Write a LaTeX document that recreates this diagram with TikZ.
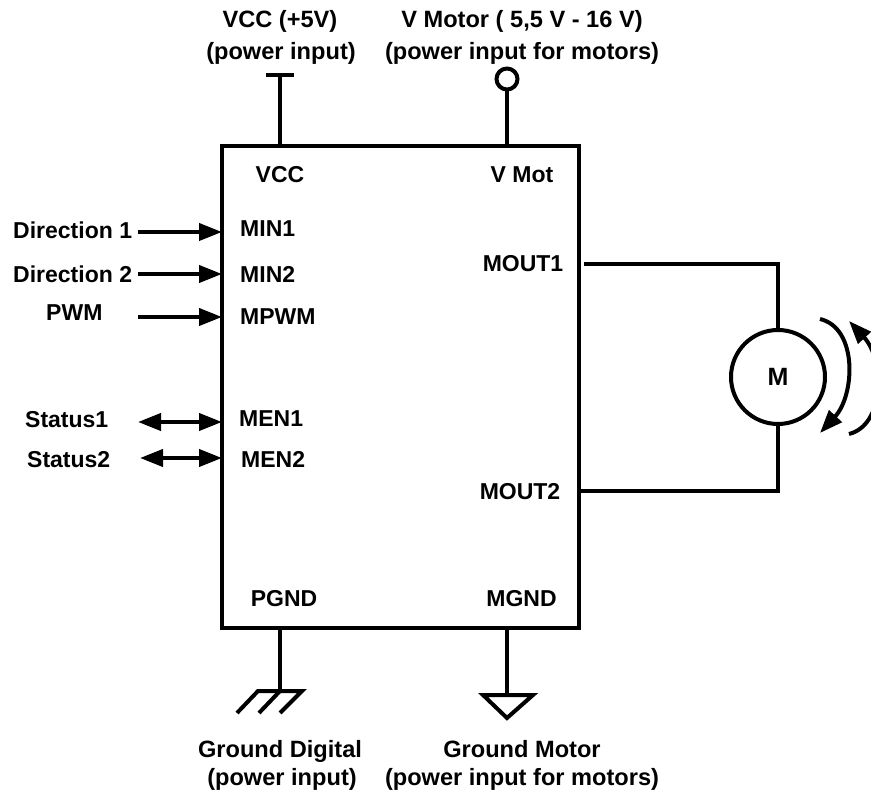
\documentclass[tikz,border=0pt]{standalone}
\usepackage{fontspec}
\setmainfont{Liberation Sans}
\usetikzlibrary{arrows.meta}
\tikzset{
    txt/.style={inner sep=0pt,anchor=base,font=\fontsize{23}{27}\selectfont\bfseries},
    txtl/.style={txt,anchor=base west},
    capt/.style={inner sep=0pt,anchor=base,font=\fontsize{23.6}{27}\selectfont\bfseries},
    wire/.style={line width=4pt},
    sig/.style={wire,-{Triangle[length=23pt,width=17pt]}},
    bisig/.style={wire,{Triangle[length=23pt,width=17pt]}-{Triangle[length=23pt,width=17pt]}}
}
\begin{document}
\begin{tikzpicture}[x=1pt,y=-1pt,line join=miter]
 \clip (0,0) rectangle (871,791);
 \node[draw,line width=4pt,inner sep=0pt,outer sep=0pt,minimum width=357pt,minimum height=482pt] (chip) at (400.5,387) {};

 \node[capt] (vcclbl) at (280,28) {VCC (+5V)};
 \node[capt] (vcclbltwo) at (281,60) {(power input)};
 \node[capt] (vmotlbl) at (522,28) {V Motor ( 5,5 V - 16 V)};
 \node[capt] (vmotlbltwo) at (522,60) {(power input for motors)};
 \node[capt] (gndlbl) at (280,757) {Ground Digital};
 \node[capt] (gndlbltwo) at (282,785) {(power input)};
 \node[capt] (mgndlbl) at (522,757) {Ground Motor};
 \node[capt] (mgndlbltwo) at (522,785) {(power input for motors)};

 \node[txt] (vcc) at (280,183) {VCC};
 \node[txt] (vmot) at (522,183) {V Mot};
 \node[txtl] (minone) at (240,237) {MIN1};
 \node[txtl] (mintwo) at (240,283) {MIN2};
 \node[txtl] (mpwm) at (240,325) {MPWM};
 \node[txtl] (menone) at (239,427) {MEN1};
 \node[txtl] (mentwo) at (241,468) {MEN2};
 \node[txt] (moutone) at (523,272) {MOUT1};
 \node[txt] (mouttwo) at (520,500) {MOUT2};
 \node[txt] (pgnd) at (284,606) {PGND};
 \node[txt] (mgnd) at (521.5,606) {MGND};

 \node[txtl] (dirone) at (13,239) {Direction 1};
 \node[txtl] (dirtwo) at (13,283) {Direction 2};
 \node[txtl] (pwm) at (46,321) {PWM};
 \node[txtl] (statone) at (25,428) {Status1};
 \node[txtl] (stattwo) at (27,468) {Status2};

 \coordinate (dironeend) at (138,232);
 \coordinate (dirtwoend) at (138,274);
 \coordinate (pwmend) at (138,317);
 \coordinate (statoneend) at (138,422);
 \coordinate (stattwoend) at (140,458);
 \draw[sig] (dironeend) -- (chip.west |- dironeend);
 \draw[sig] (dirtwoend) -- (chip.west |- dirtwoend);
 \draw[sig] (pwmend) -- (chip.west |- pwmend);
 \draw[bisig] (statoneend) -- (chip.west |- statoneend);
 \draw[bisig] (stattwoend) -- (chip.west |- stattwoend);

 \coordinate (vcctop) at (280,75);
 \coordinate (vccbarl) at (266,75);
 \coordinate (vccbarr) at (294,75);
 \draw[wire] (vcctop) -- (chip.north -| vcctop);
 \draw[wire] (vccbarl) -- (vccbarr);
 \node[draw,circle,line width=4pt,inner sep=0pt,outer sep=0pt,minimum size=21pt] (vmotpin) at (507,79) {};
 \draw[wire] (vmotpin) -- (chip.north -| vmotpin);

 \node[draw,circle,line width=4pt,inner sep=0pt,outer sep=0pt,minimum size=94pt,font=\fontsize{25}{27}\selectfont\bfseries] (motor) at (778,377) {M};
 \coordinate (outonestart) at (584,264);
 \coordinate (wireone) at (778,264);
 \coordinate (wiretwo) at (778,491);
 \draw[wire] (outonestart) -- (wireone) -- (motor);
 \draw[wire] (chip.east |- wiretwo) -- (wiretwo) -- (motor);

 \coordinate (rotastart) at (820,319);
 \coordinate (rotaend) at (820,433);
 \coordinate (rotbstart) at (849,434);
 \coordinate (rotbend) at (849,321);
 \draw[sig] (rotastart) .. controls (858,328) and (855,395) .. (rotaend);
 \draw[sig] (rotbstart) .. controls (885,425) and (885,360) .. (rotbend);

 \coordinate (gndbot) at (280,691);
 \coordinate (gndl) at (258,691);
 \coordinate (gndr) at (302,691);
 \coordinate (gnda) at (237,713);
 \coordinate (gndb) at (259,713);
 \coordinate (gndc) at (280,713);
 \draw[wire] (chip.south -| gndbot) -- (gndbot);
 \draw[wire] (gnda) -- (gndl) -- (gndr) -- (gndc);
 \draw[wire] (gndbot) -- (gndb);

 \coordinate (mgndtop) at (507,695);
 \coordinate (mgndl) at (483,695);
 \coordinate (mgndr) at (533,695);
 \coordinate (mgndtip) at (507,718);
 \draw[wire] (chip.south -| mgndtop) -- (mgndtop);
 \draw[wire] (mgndl) -- (mgndr) -- (mgndtip) -- cycle;
\end{tikzpicture}
\end{document}
